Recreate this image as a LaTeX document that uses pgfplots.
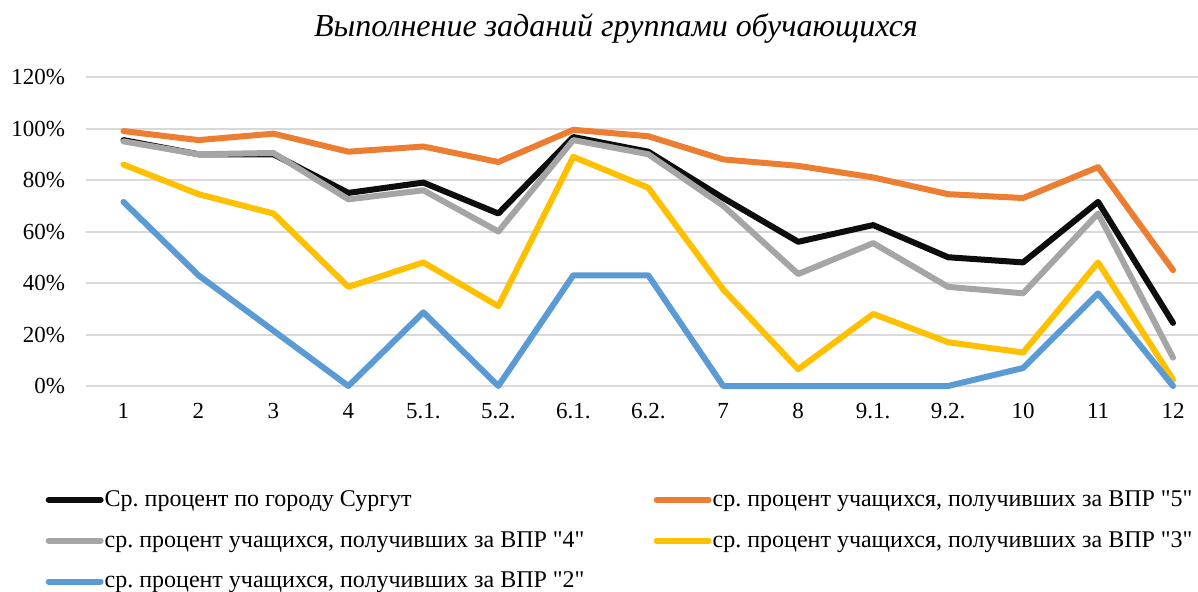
\documentclass[border=0pt]{standalone}
\usepackage{fontspec}
\setmainfont{Liberation Serif}
\newfontfamily\plainrm{Liberation Serif}
\usepackage{pgfplots}
\pgfplotsset{compat=1.18}
\definecolor{cOr}{HTML}{ED7D31}
\definecolor{cGr}{HTML}{A5A5A5}
\definecolor{cYe}{HTML}{FFC000}
\definecolor{cBl}{HTML}{5B9BD5}
\definecolor{cBk}{HTML}{0D0D0D}
\definecolor{gridgray}{HTML}{D9D9D9}
\newcommand\q{{\plainrm\symbol{34}}}
\frenchspacing
\begin{document}
\begin{tikzpicture}
\useasboundingbox (0,0) rectangle (599pt,295.5pt);
\node[font=\fontsize{16}{19}\selectfont\itshape] at (308pt,281.5pt) {Выполнение заданий группами обучающихся};
\begin{axis}[
  at={(43pt,102.5pt)}, anchor=south west,
  scale only axis, width=556pt, height=154.5pt,
  xmin=-0.5, xmax=14.333, ymin=0, ymax=120,
  xtick={0,...,14},
  xticklabels={1,2,3,4,5.1.,5.2.,6.1.,6.2.,7,8,9.1.,9.2.,10,11,12},
  ytick={0,20,...,120},
  yticklabel={\pgfmathprintnumber{\tick}\%},
  axis line style={draw=none},
  major tick length=0pt,
  ymajorgrids,
  grid style={draw=gridgray, line width=1pt},
  tick label style={font=\fontsize{11.5}{13}\selectfont},
  /pgf/number format/assume math mode=true,
  yticklabel style={xshift=-7pt},
  xticklabel style={yshift=-5pt},
  clip=false,
  every axis plot/.append style={line width=3pt, line cap=round, line join=round},
  legend columns=2,
  legend cell align=left,
  legend image code/.code={\draw[line width=3pt, line cap=round] (0pt,0pt) -- (26pt,0pt);},
  legend style={draw=none, fill=none, at={(axis description cs:-0.042,-0.32)}, anchor=north west,
    font=\fontsize{12}{14}\selectfont, row sep=10pt,
    /tikz/every odd column/.append style={column sep=0pt},
    /tikz/every even column/.append style={column sep=0pt},
    nodes={inner sep=0.5pt}},
]
\addplot[cBk] coordinates {(0,95.5)(1,90)(2,90)(3,75)(4,79)(5,67)(6,96.7)(7,91)(8,73)(9,56)(10,62.5)(11,50)(12,48)(13,71.5)(14,24.5)};
\addplot[cOr] coordinates {(0,99)(1,95.5)(2,98)(3,91)(4,93)(5,87)(6,99.5)(7,97)(8,88)(9,85.5)(10,81)(11,74.5)(12,73)(13,85)(14,45)};
\addplot[cGr] coordinates {(0,95)(1,90)(2,90.5)(3,72.5)(4,76)(5,60)(6,95.5)(7,90)(8,70)(9,43.5)(10,55.5)(11,38.5)(12,36)(13,67)(14,11)};
\addplot[cYe] coordinates {(0,86)(1,74.5)(2,67)(3,38.5)(4,48)(5,31)(6,89)(7,77)(8,37.5)(9,6.5)(10,28)(11,17)(12,13)(13,48)(14,2.5)};
\addplot[cBl] coordinates {(0,71.5)(1,43)(2,21.5)(3,0)(4,28.6)(5,0)(6,43)(7,43)(8,0)(9,0)(10,0)(11,0)(12,7)(13,36)(14,0)};
\legend{\makebox[274pt][l]{Ср. процент по городу Сургут},
  ср. процент учащихся{,} получивших за ВПР \q5\q,
  \makebox[274pt][l]{ср. процент учащихся{,} получивших за ВПР \q4\q},
  ср. процент учащихся{,} получивших за ВПР \q3\q,
  \makebox[274pt][l]{ср. процент учащихся{,} получивших за ВПР \q2\q}}
\end{axis}
\end{tikzpicture}
\end{document}
